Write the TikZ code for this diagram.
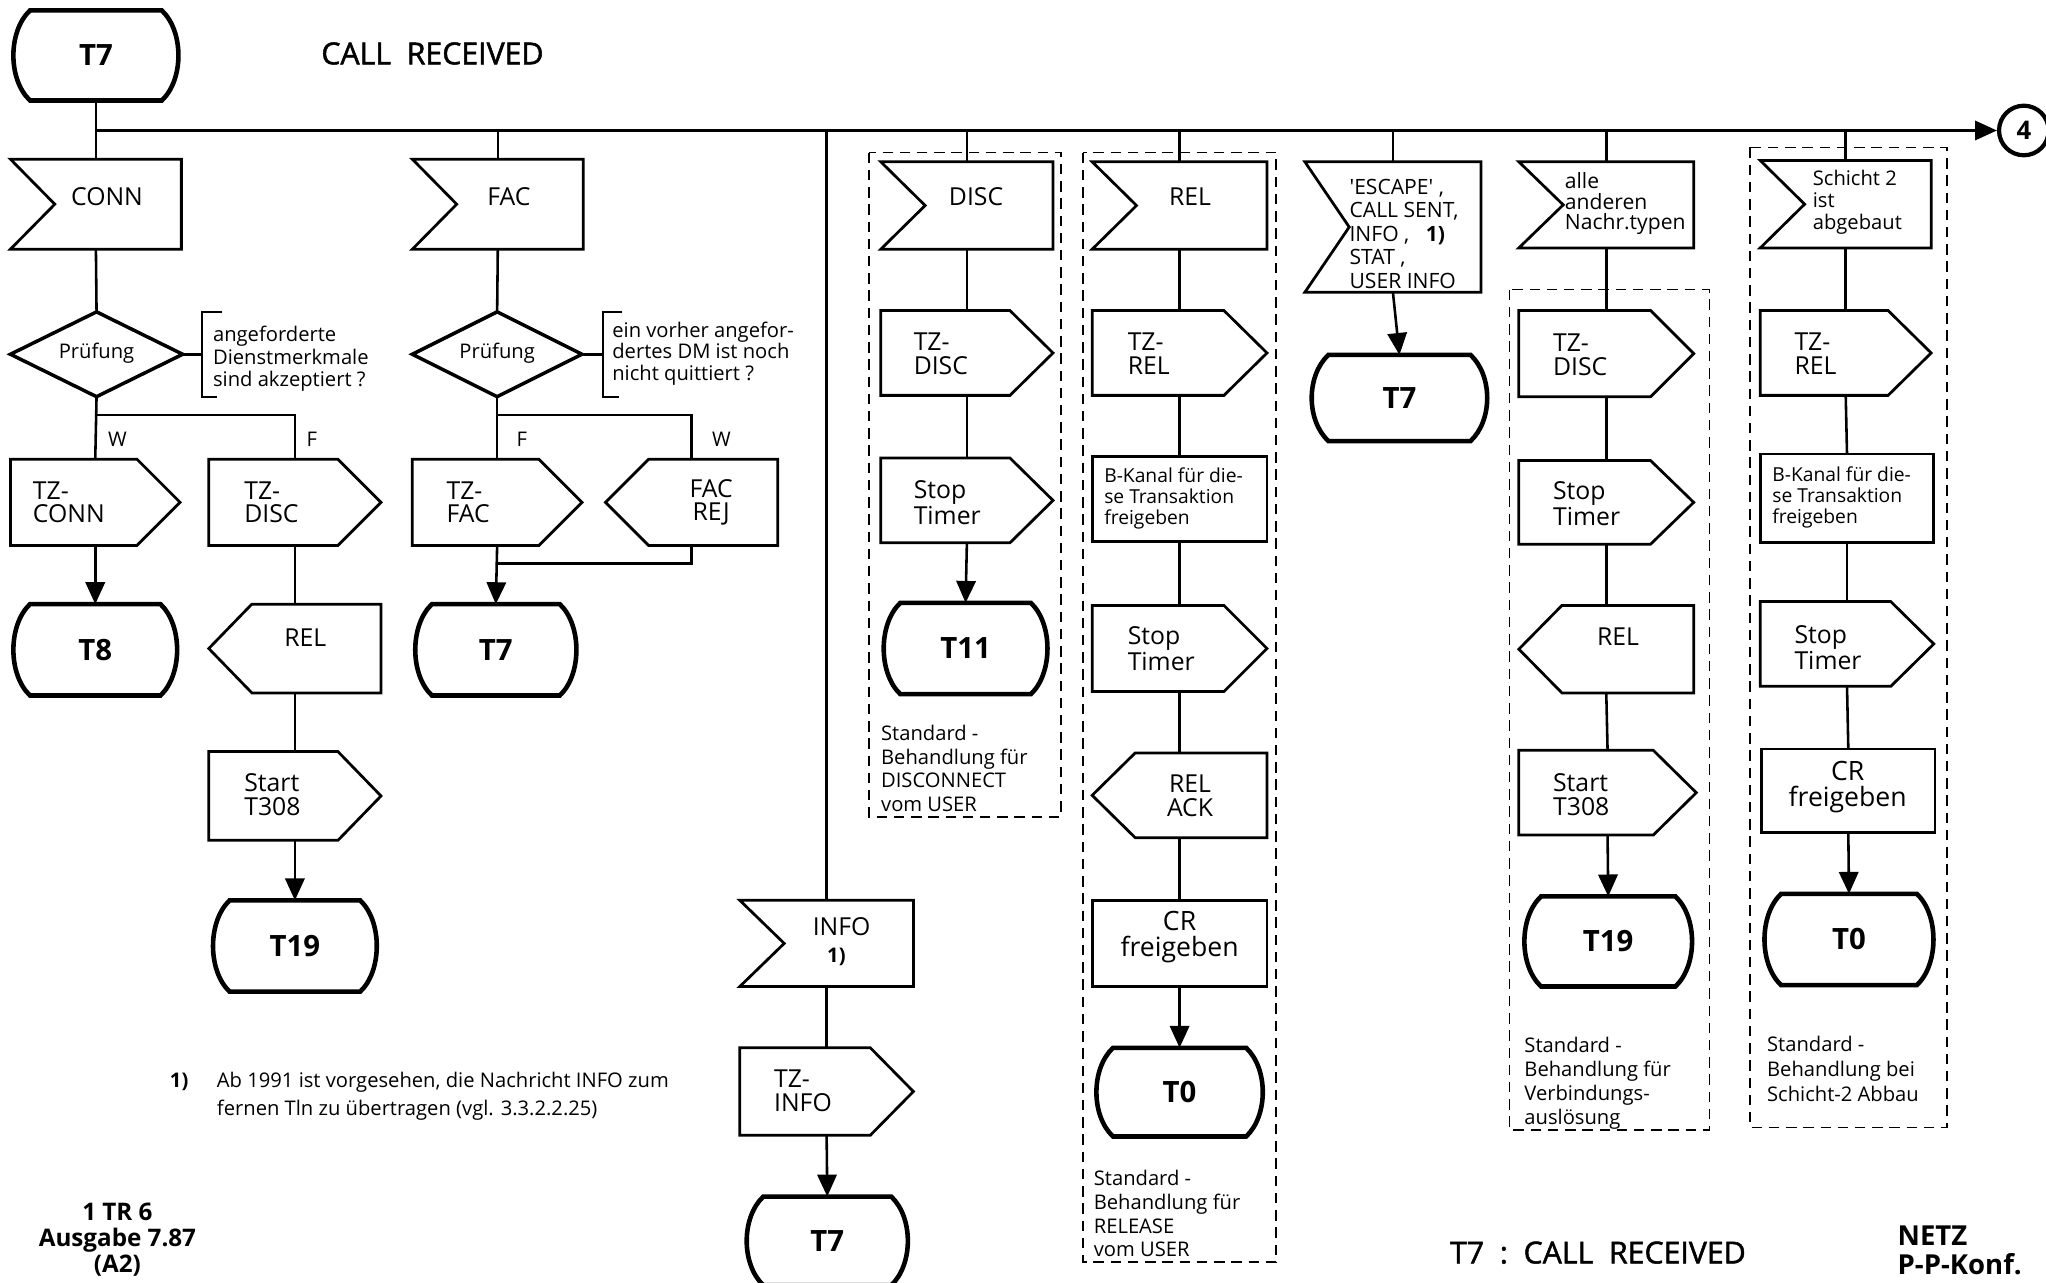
\documentclass[tikz,border=0pt]{standalone}
\usepackage{fontspec}
\setmainfont{Open Sans}
\newfontfamily\plainfnt{Open Sans}
\usetikzlibrary{calc,arrows.meta}
\tikzset{
 anch/.style={rectangle,inner sep=0pt,outer sep=0pt,draw=none},
 shp/.style={line width=1.5pt,line join=miter},
 dia/.style={line width=1.9pt,line join=miter},
 thk/.style={line width=2.5pt,line join=miter},
 ln/.style={line width=1.4pt},
 brk/.style={line width=1pt},
 arr/.style={line width=1.4pt,-{Triangle[length=4.2mm,width=3.7mm]}},
 grp/.style={line width=0.8pt,dash pattern=on 2mm off 1.3mm},
 lbl/.style={inner sep=0pt,font=\fontsize{13.5}{12.8}\selectfont,align=left},
 lblc/.style={lbl,align=center},
 sml/.style={inner sep=0pt,font=\fontsize{11}{12.8}\selectfont,align=left},
 tlab/.style={inner sep=0pt,font=\bfseries\fontsize{16}{16}\selectfont},
 ttl/.style={inner sep=0pt,font=\fontsize{16.5}{16.5}\selectfont\addfontfeature{FakeBold=1.6}},
}
\newcommand\mkanch[5]{\node[anch,minimum width={(#4-#2)*0.25mm},minimum height={(#5-#3)*0.25mm}] (#1) at ({(#2+#4)/2},{(#3+#5)/2}) {};}
\newcommand\sendR[5]{\mkanch{#1}{#2}{#3}{#4}{#5}\draw[shp] (#1.north west) -- ($(#1.north east)+(-33,0)$) -- (#1.east) -- ($(#1.south east)+(-33,0)$) -- (#1.south west) -- cycle;}
\newcommand\sendL[5]{\mkanch{#1}{#2}{#3}{#4}{#5}\draw[shp] ($(#1.north west)+(33,0)$) -- (#1.north east) -- (#1.south east) -- ($(#1.south west)+(33,0)$) -- (#1.west) -- cycle;}
\newcommand\inp[5]{\mkanch{#1}{#2}{#3}{#4}{#5}\draw[shp] (#1.north west) -- (#1.north east) -- (#1.south east) -- (#1.south west) -- ($(#1.west)+(34,0)$) -- cycle;}
\newcommand\rbox[5]{\mkanch{#1}{#2}{#3}{#4}{#5}\draw[shp] (#1.north west) rectangle (#1.south east);}
\newcommand\dmd[5]{\mkanch{#1}{#2}{#3}{#4}{#5}\draw[dia] (#1.north) -- (#1.east) -- (#1.south) -- (#1.west) -- cycle;}
\newcommand\term[6]{\mkanch{#1}{#2}{#3}{#4}{#5}\draw[thk] ($(#1.north west)+(13,0)$) -- ($(#1.north east)+(-13,0)$) .. controls ($(#1.north east)+(4,16)$) and ($(#1.south east)+(4,-16)$) .. ($(#1.south east)+(-13,0)$) -- ($(#1.south west)+(13,0)$) .. controls ($(#1.south west)+(-4,-16)$) and ($(#1.north west)+(-4,16)$) .. ($(#1.north west)+(13,0)$) -- cycle;
\node[tlab] (#1t) at (#1.center) {#6};}
\begin{document}
\begin{tikzpicture}[x=0.25mm,y=-0.25mm]
\useasboundingbox (0,0) rectangle (1568,983);
% header
\term{tA}{10}{8}{137}{77}{T7}
\node[ttl,anchor=west] (title) at (246,41) {CALL\ \ RECEIVED};
\coordinate (j0) at (74,100);
\node[circle,draw,line width=2.3pt,minimum size=9.5mm,inner sep=0pt,font=\bfseries\fontsize{14}{14}\selectfont] (c4) at (1551,100) {4};
\draw[arr] (j0) -- (c4);
% column A
\inp{conn}{8}{122}{139}{191}
\node[lbl] (connT) at (82,151) {CONN};
\dmd{prufA}{8}{239}{140}{304}
\node[sml] (prufAT) at (74,271) {Prüfung};
\sendR{tzconn}{8}{352}{138}{418}
\node[lbl,anchor=west] (tzconnT) at (25,385) {TZ-\\CONN};
\term{tB}{10}{463}{136}{533}{T8}
\draw[ln] (tA.south) -- (conn.north);
\draw[ln] (conn.south) -- (prufA.north);
\draw[ln] (prufA.south) -- (tzconn.north);
\draw[arr] (tzconn.south) -- (tB.north);
\coordinate (sA) at (74,318);
\node[sml] (wA) at (90,337) {W};
\node[sml] (fA) at (239,337) {F};
\coordinate (bA1) at (170,239);
\coordinate (bA2) at (155,239);
\coordinate (bA3) at (155,304);
\coordinate (bA4) at (166,304);
\draw[ln] (prufA.east) -- (prufA.east -| bA2);
\draw[brk] (bA1) -- (bA2) -- (bA3) -- (bA4);
\node[sml,anchor=west,font=\fontsize{11}{12.1}\selectfont] (cmA) at (163,275) {angeforderte\\Dienstmerkmale\\sind akzeptiert ?};
% column B
\sendR{tzdiscB}{160}{352}{292}{418}
\node[lbl,anchor=west] (tzdiscBT) at (187,385) {TZ-\\DISC};
\sendL{relB}{160}{463}{292}{531}
\node[lbl] (relBT) at (234,489) {REL};
\sendR{startB}{160}{576}{292}{644}
\node[lbl,anchor=west] (startBT) at (187,609) {Start\\T308};
\term{tC}{163}{690}{289}{760}{T19}
\draw[ln] (sA) -| (tzdiscB.north);
\draw[ln] (tzdiscB.south) -- (relB.north);
\draw[ln] (relB.south) -- (startB.north);
\draw[arr] (startB.south) -- (tC.north);
% column C
\inp{fac}{316}{122}{447}{191}
\node[lbl] (facT) at (390,151) {FAC};
\dmd{prufC}{316}{239}{446}{304}
\node[sml] (prufCT) at (381,271) {Prüfung};
\sendR{tzfac}{316}{352}{446}{418}
\node[lbl,anchor=west] (tzfacT) at (342,385) {TZ-\\FAC};
\sendL{facrej}{464}{352}{596}{418}
\node[lblc] (facrejT) at (545,385) {FAC\\REJ};
\term{tD}{318}{463}{442}{533}{T7}
\coordinate (sC) at (381,318);
\coordinate (mC) at (381,432);
\node[sml] (fC) at (400,337) {F};
\node[sml] (wC) at (553,337) {W};
\draw[ln] (fac.north |- j0) -- (fac.north);
\draw[ln] (fac.south) -- (prufC.north);
\draw[ln] (prufC.south) -- (tzfac.north);
\draw[ln] (sC) -| (facrej.north);
\draw[ln] (facrej.south) |- (mC);
\draw[arr] (tzfac.south) -- (tD.north);
\coordinate (bC1) at (477,239);
\coordinate (bC2) at (462,239);
\coordinate (bC3) at (462,304);
\coordinate (bC4) at (474,304);
\draw[ln] (prufC.east) -- (prufC.east -| bC2);
\draw[brk] (bC1) -- (bC2) -- (bC3) -- (bC4);
\node[sml,anchor=west,font=\fontsize{11}{11.7}\selectfont] (cmC) at (469,271) {ein vorher angefor-\\dertes DM ist noch\\nicht quittiert ?};
% column D (INFO)
\inp{info}{567}{690}{700}{756}
\node[lbl] (infoT) at (645,710) {INFO};
\node[inner sep=0pt,font=\bfseries\fontsize{11}{11}\selectfont] (infoN) at (641,733) {1)};
\sendR{tzinfo}{567}{803}{700}{870}
\node[lbl,anchor=west] (tzinfoT) at (593,836) {TZ-\\INFO};
\term{tE}{572}{917}{696}{985}{T7}
\draw[ln] (info.north |- j0) -- (info.north);
\draw[ln] (info.south) -- (tzinfo.north);
\draw[arr] (tzinfo.south) -- (tE.north);
% column E (DISC)
\draw[grp] (666,117) rectangle (813,626);
\inp{disc}{675}{124}{807}{191}
\node[lbl] (discT) at (748,151) {DISC};
\sendR{tzdiscE}{675}{238}{807}{303}
\node[lbl,anchor=west] (tzdiscET) at (700,271) {TZ-\\DISC};
\sendR{stopE}{675}{351}{807}{416}
\node[lbl,anchor=west] (stopET) at (700,385) {Stop\\Timer};
\term{tF}{677}{462}{803}{532}{T11}
\draw[ln] (disc.north |- j0) -- (disc.north);
\draw[ln] (disc.south) -- (tzdiscE.north);
\draw[ln] (tzdiscE.south) -- (stopE.north);
\draw[arr] (stopE.south) -- (tF.north);
\node[sml,anchor=west] (discS) at (675,589) {Standard -\\Behandlung für\\DISCONNECT\\vom USER};
% column F (REL)
\draw[grp] (830,117) rectangle (978,967);
\inp{relF}{837}{124}{971}{191}
\node[lbl] (relFT) at (912,151) {REL};
\sendR{tzrel}{837}{238}{971}{303}
\node[lbl,anchor=west] (tzrelT) at (864,271) {TZ-\\REL};
\rbox{bkanF}{837}{350}{971}{415}
\node[sml,anchor=west,font=\fontsize{10.5}{11.4}\selectfont] (bkanFT) at (846,382) {B-Kanal für die-\\se Transaktion\\freigeben};
\sendR{stopF}{837}{464}{971}{530}
\node[lbl,anchor=west] (stopFT) at (864,497) {Stop\\Timer};
\sendL{relack}{837}{577}{971}{642}
\node[lblc] (relackT) at (912,610) {REL\\ACK};
\rbox{crF}{837}{690}{971}{756}
\node[lblc,font=\fontsize{14.5}{14.2}\selectfont] (crFT) at (904,718) {CR\\freigeben};
\term{tG}{840}{803}{968}{871}{T0}
\draw[ln] (relF.north |- j0) -- (relF.north);
\draw[ln] (relF.south) -- (tzrel.north);
\draw[ln] (tzrel.south) -- (bkanF.north);
\draw[ln] (bkanF.south) -- (stopF.north);
\draw[ln] (stopF.south) -- (relack.north);
\draw[ln] (relack.south) -- (crF.north);
\draw[arr] (crF.south) -- (tG.north);
\node[sml,anchor=west,font=\fontsize{11}{13}\selectfont] (relS) at (838,930) {Standard -\\Behandlung für\\RELEASE\\vom USER};
% column G (ESCAPE)
\inp{esc}{1000}{124}{1135}{224}
\node[sml,anchor=west,font=\plainfnt\fontsize{11.5}{12.8}\selectfont] (escT) at (1034,179) {'ESCAPE' ,\\CALL SENT,\\INFO ,\ \ \ \textbf{1)}\\STAT ,\\USER INFO};
\term{tH}{1005}{272}{1140}{338}{T7}
\draw[ln] (esc.north |- j0) -- (esc.north);
\draw[arr] (esc.south) -- (tH.north);
% column H (alle)
\draw[grp] (1157,222) rectangle (1310,866);
\inp{alle}{1164}{124}{1298}{190}
\node[sml,anchor=west,font=\fontsize{11.5}{11.4}\selectfont] (alleT) at (1199,156) {alle\\anderen\\Nachr.typen};
\sendR{tzdiscH}{1164}{238}{1298}{304}
\node[lbl,anchor=west] (tzdiscHT) at (1190,272) {TZ-\\DISC};
\sendR{stopH}{1164}{353}{1298}{417}
\node[lbl,anchor=west] (stopHT) at (1190,386) {Stop\\Timer};
\sendL{relH}{1164}{464}{1298}{531}
\node[lbl] (relHT) at (1240,488) {REL};
\sendR{startH}{1164}{575}{1300}{640}
\node[lbl,anchor=west] (startHT) at (1190,609) {Start\\T308};
\term{tI}{1168}{687}{1297}{756}{T19}
\draw[ln] (alle.north |- j0) -- (alle.north);
\draw[ln] (alle.south) -- (tzdiscH.north);
\draw[ln] (tzdiscH.south) -- (stopH.north);
\draw[ln] (stopH.south) -- (relH.north);
\draw[ln] (relH.south) -- (startH.north);
\draw[arr] (startH.south) -- (tI.north);
\node[sml,anchor=west,font=\fontsize{11}{13}\selectfont] (alleS) at (1168,830) {Standard -\\Behandlung für\\Verbindungs-\\auslösung};
% column I (Schicht 2)
\draw[grp] (1341,113) rectangle (1492,864);
\inp{sch}{1349}{123}{1480}{190}
\node[sml,anchor=west,font=\fontsize{11}{11.8}\selectfont] (schT) at (1389,155) {Schicht 2\\ist\\abgebaut};
\sendR{tzrelI}{1349}{238}{1480}{303}
\node[lbl,anchor=west] (tzrelIT) at (1375,271) {TZ-\\REL};
\rbox{bkanI}{1349}{348}{1482}{416}
\node[sml,anchor=west,font=\fontsize{10.5}{11.4}\selectfont] (bkanIT) at (1358,381) {B-Kanal für die-\\se Transaktion\\freigeben};
\sendR{stopI}{1349}{461}{1482}{526}
\node[lbl,anchor=west] (stopIT) at (1375,496) {Stop\\Timer};
\rbox{crI}{1350}{574}{1483}{638}
\node[lblc,font=\fontsize{14.5}{14.2}\selectfont] (crIT) at (1416,603) {CR\\freigeben};
\term{tJ}{1352}{685}{1482}{755}{T0}
\draw[ln] (sch.north |- j0) -- (sch.north);
\draw[ln] (sch.south) -- (tzrelI.north);
\draw[ln] (tzrelI.south) -- (bkanI.north);
\draw[ln] (bkanI.south) -- (stopI.north);
\draw[ln] (stopI.south) -- (crI.north);
\draw[arr] (crI.south) -- (tJ.north);
\node[sml,anchor=west,font=\fontsize{11}{13.5}\selectfont] (schS) at (1354,819) {Standard -\\Behandlung bei\\Schicht-2 Abbau};
% footnote and footer
\node[inner sep=0pt,anchor=west,font=\bfseries\fontsize{11}{15}\selectfont] (fnN) at (130,829) {1)};
\node[inner sep=0pt,anchor=west,align=left,font=\fontsize{11}{15}\selectfont] (fnT) at (166,840) {Ab 1991 ist vorgesehen, die Nachricht INFO zum\\fernen Tln zu übertragen (vgl. 3.3.2.2.25)};
\node[inner sep=0pt,align=center,font=\bfseries\fontsize{13.2}{14.2}\selectfont] (ed) at (90,950) {1 TR 6\\Ausgabe 7.87\\(A2)};
\node[ttl,anchor=west] (ftitle) at (1111,960) {T7\ \ :\ \ CALL\ \ RECEIVED};
\node[inner sep=0pt,anchor=west,align=left,font=\bfseries\fontsize{15}{15.6}\selectfont] (netz) at (1454,958) {NETZ\\P-P-Konf.};
\end{tikzpicture}
\end{document}
